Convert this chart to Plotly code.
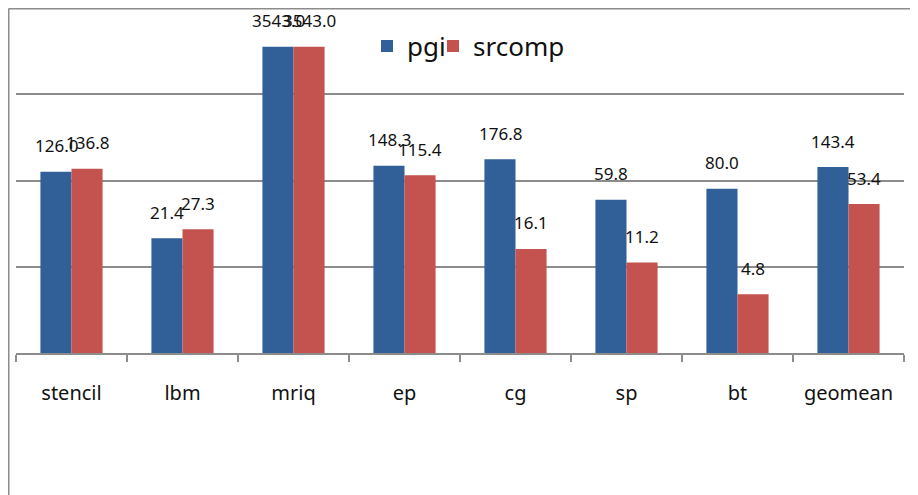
import math
import plotly.graph_objects as go

categories = ["stencil", "lbm", "mriq", "ep", "cg", "sp", "bt", "geomean"]
pgi = [126.0, 21.4, 3543.0, 148.3, 176.8, 59.8, 80.0, 143.4]
srcomp = [136.8, 27.3, 3543.0, 115.4, 16.1, 11.2, 4.8, 53.4]

BLUE = "#315F97"
RED = "#C4524F"
GRID = "#8C8C8C"
FONT = "Noto Sans"

fig = go.Figure()
fig.add_trace(go.Bar(name="pgi", x=categories, y=pgi, legend="legend",
                     marker=dict(color=BLUE, line=dict(width=0))))
fig.add_trace(go.Bar(name="srcomp", x=categories, y=srcomp, legend="legend2",
                     marker=dict(color=RED, line=dict(width=0))))

annotations = []
for series, shift in ((pgi, -15.5), (srcomp, 15.5)):
    for c, v in zip(categories, series):
        annotations.append(dict(
            x=c, y=math.log10(v), xref="x", yref="y",
            text=f"{v:.1f}", showarrow=False,
            xshift=shift, yshift=26, yanchor="middle",
            font=dict(family=FONT, size=17, color="#111"),
        ))

# page body adds an ~8px offset; margins compensate so the plot lands where the reference has it
OFF = 8
W, H = 918, 495
ml, mr, mt, mb = 8, 22, 0, 150
pw, ph = W - ml - mr, H - mt - mb

def px(xs):
    return (xs - OFF - ml) / pw

def py(ys):
    return (H - mb - (ys - OFF)) / ph

shapes = [
    dict(type="line", xref="paper", yref="paper", x0=px(8.5), x1=px(940), y0=py(8.75), y1=py(8.75),
         line=dict(color=GRID, width=1.5)),
    dict(type="line", xref="paper", yref="paper", x0=px(8.75), x1=px(8.75), y0=py(8.75), y1=py(520),
         line=dict(color=GRID, width=1.5)),
]

legend_common = dict(orientation="h", xanchor="left", yanchor="middle",
                     font=dict(family=FONT, size=26, color="#111"), bgcolor="rgba(0,0,0,0)")

fig.update_layout(
    width=W, height=H,
    margin=dict(l=ml, r=mr, t=mt, b=mb),
    paper_bgcolor="white", plot_bgcolor="white",
    barmode="group", bargap=0.44, bargroupgap=0,
    font=dict(family=FONT, color="#111"),
    showlegend=True,
    legend=dict(x=px(367), y=py(46), **legend_common),
    legend2=dict(x=px(433), y=py(46), **legend_common),
    annotations=annotations,
    shapes=shapes,
    xaxis=dict(type="category", showline=True, linecolor=GRID, linewidth=2,
               ticks="outside", tickson="boundaries", ticklen=7, tickcolor=GRID, tickwidth=1.5,
               tickfont=dict(family=FONT, size=20, color="#111"), ticklabelstandoff=21,
               showgrid=False),
    yaxis=dict(type="log", range=[0, 4], dtick=1, showticklabels=False, showgrid=True,
               gridcolor=GRID, gridwidth=1.5, showline=False, zeroline=False, ticks=""),
)

fig.write_html("out.html")
